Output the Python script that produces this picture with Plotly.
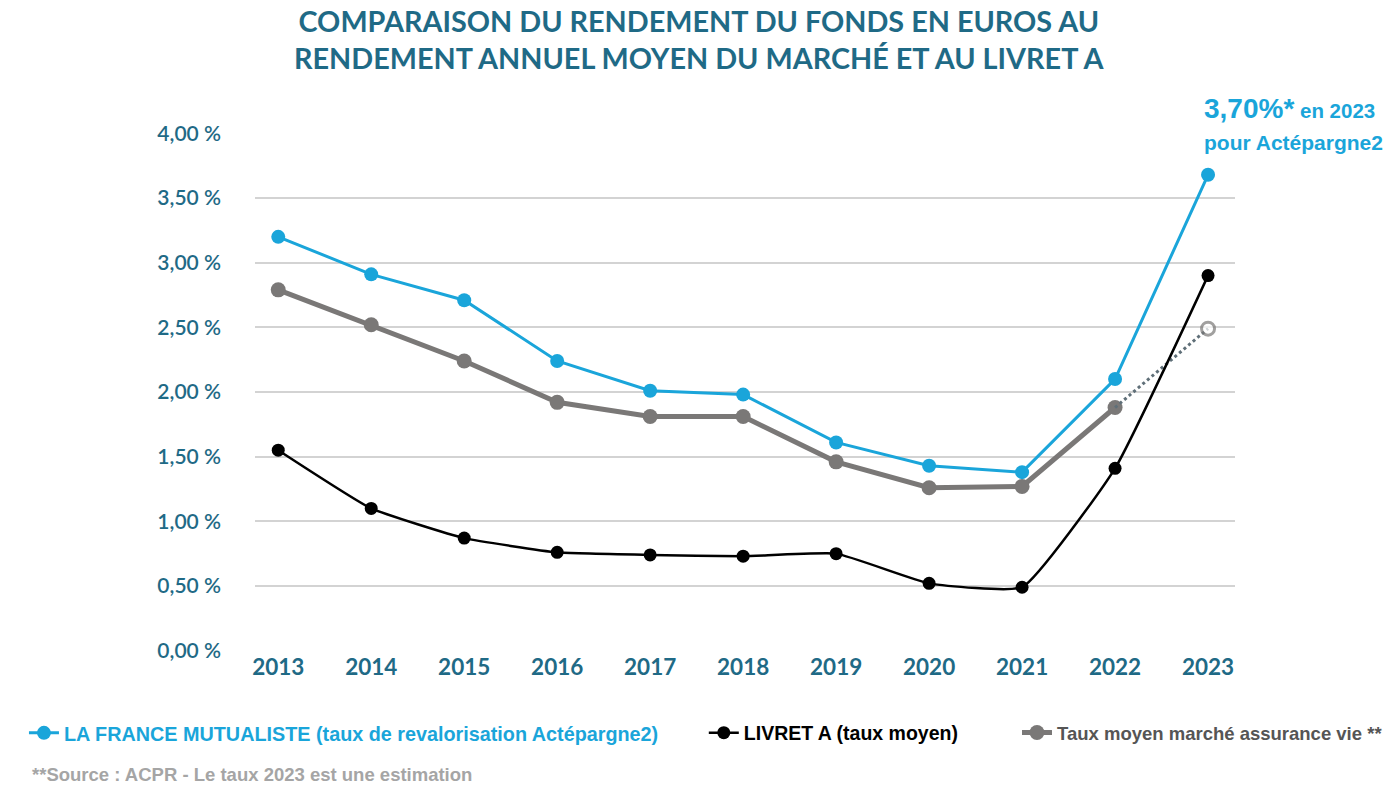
import plotly.graph_objects as go

# Data
years = [2013, 2014, 2015, 2016, 2017, 2018, 2019, 2020, 2021, 2022, 2023]
lfm = [3.20, 2.91, 2.71, 2.24, 2.01, 1.98, 1.61, 1.43, 1.38, 2.10, 3.68]
livret_a = [1.55, 1.10, 0.87, 0.76, 0.74, 0.73, 0.75, 0.52, 0.49, 1.41, 2.90]
marche = [2.79, 2.52, 2.24, 1.92, 1.81, 1.81, 1.46, 1.26, 1.27, 1.88, 2.49]

y_ticks = [0, 0.5, 1.0, 1.5, 2.0, 2.5, 3.0, 3.5, 4.0]
y_labels = ["0,00 %", "0,50 %", "1,00 %", "1,50 %", "2,00 %", "2,50 %", "3,00 %", "3,50 %", "4,00 %"]

BLUE = "#1aa5da"
GREY = "#7a7877"
TEAL = "#1f6a86"
ARIAL = "Liberation Sans, Arial"

fig = go.Figure()

# Market average: solid up to 2022, dotted estimate for 2023
fig.add_trace(go.Scatter(
    x=years[:-1], y=marche[:-1], mode="lines+markers",
    name="<b>Taux moyen marché assurance vie **</b>",
    line=dict(color=GREY, width=5),
    marker=dict(size=15, color=GREY),
    legend="legend3",
))
fig.add_trace(go.Scatter(
    x=years[-2:], y=marche[-2:], mode="lines+markers",
    line=dict(color="#5f6f78", width=3, dash="dot"),
    marker=dict(size=[0, 13], color="white", line=dict(color=GREY, width=3)),
    showlegend=False,
))

fig.add_trace(go.Scatter(
    x=years, y=livret_a, mode="lines+markers",
    name="<b>LIVRET A (taux moyen)</b>",
    line=dict(color="black", width=2.5, shape="spline", smoothing=0.4),
    marker=dict(size=13, color="black"),
    legend="legend2",
))

fig.add_trace(go.Scatter(
    x=years, y=lfm, mode="lines+markers",
    name="<b>LA FRANCE MUTUALISTE (taux de revalorisation Actépargne2)</b>",
    line=dict(color=BLUE, width=3),
    marker=dict(size=14, color=BLUE),
    legend="legend",
))

leg_common = dict(xref="container", yref="container", y=0.0869, yanchor="middle",
                  xanchor="left", orientation="h", bgcolor="rgba(0,0,0,0)")

fig.update_layout(
    width=1400, height=794,
    margin=dict(l=247, r=173, t=125, b=151, autoexpand=False),
    paper_bgcolor="white", plot_bgcolor="white",
    legend=dict(x=0.0114, font=dict(color=BLUE, family=ARIAL, size=19.8), **leg_common),
    legend2=dict(x=0.497, font=dict(color="black", family=ARIAL, size=19.5), **leg_common),
    legend3=dict(x=0.7207, font=dict(color="#555555", family=ARIAL, size=18.5), **leg_common),
    annotations=[
        dict(text="<b>COMPARAISON DU RENDEMENT DU FONDS EN EUROS AU<br>"
                  "RENDEMENT ANNUEL MOYEN DU MARCHÉ ET AU LIVRET A</b>",
             x=0.454, xref="paper", xanchor="center", y=1.1805, yref="paper",
             yanchor="middle", showarrow=False,
             font=dict(family="Lato", size=28.8, color=TEAL)),
        dict(text="<b><span style='font-size:28px'>3,70%*</span> en 2023</b>",
             x=2023, xref="x", xanchor="left", xshift=-6, y=1.048, yref="paper",
             yanchor="middle", showarrow=False,
             font=dict(family=ARIAL, size=20.5, color=BLUE)),
        dict(text="<b>pour Actépargne2</b>",
             x=2023, xref="x", xanchor="left", xshift=-6, y=0.981, yref="paper",
             yanchor="middle", showarrow=False,
             font=dict(family=ARIAL, size=21, color=BLUE)),
        dict(text="<b>**Source : ACPR - Le taux 2023 est une estimation</b>",
             x=-0.2296, xref="paper", xanchor="left", y=-0.239, yref="paper",
             yanchor="middle", showarrow=False,
             font=dict(family=ARIAL, size=18.5, color="#a5a5a5")),
    ],
)

fig.update_xaxes(
    range=[2012.75, 2023.29], tickvals=years, ticktext=[f"<b>{y}</b>" for y in years],
    showgrid=False, zeroline=False, showline=False, ticks="",
    tickfont=dict(family="Lato", size=22.5, color=TEAL),
)
fig.update_yaxes(
    range=[-0.003, 4.003], tickvals=y_ticks, ticktext=y_labels,
    showgrid=True, gridcolor="#d3d3d3", gridwidth=1.5,
    zeroline=False, showline=False, ticks="", ticklabelstandoff=33,
    tickfont=dict(family="Lato", size=21, color=TEAL, weight=600),
)

fig.write_html("out.html")
